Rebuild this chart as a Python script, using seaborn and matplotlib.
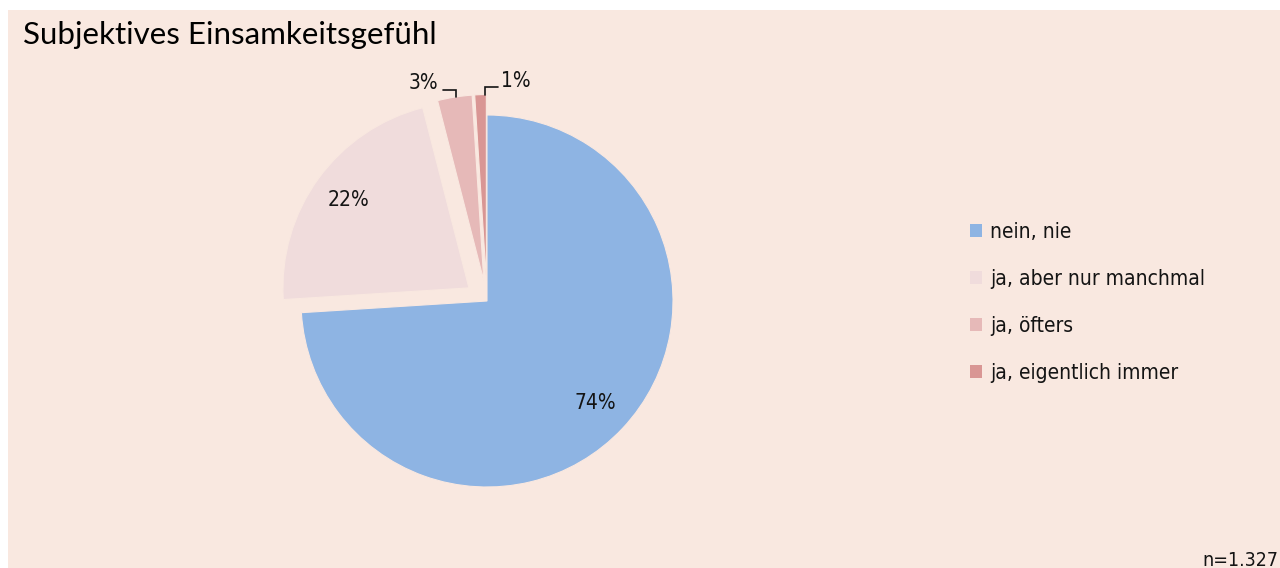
import numpy as np
import matplotlib
matplotlib.use('Agg')
import matplotlib.pyplot as plt
from matplotlib.patches import Rectangle, Patch
import seaborn as sns

# data
categories = ["nein, nie", "ja, aber nur manchmal", "ja, öfters", "ja, eigentlich immer"]
shares = [74, 22, 3, 1]
slice_colors = ["#8EB4E3", "#F0DCDC", "#E6B9B8", "#D99694"]
explode = [0, 0.12, 0.11, 0.11]
title = "Subjektives Einsamkeitsgefühl"
n_label = "n=1.327"

bg = "#F9E8E0"
ink = "#141414"

sns.set_theme(style="white")
plt.rcParams['font.family'] = ['DejaVu Sans']
plt.rcParams['font.stretch'] = 'condensed'

W, H = 1280, 568
fig = plt.figure(figsize=(W / 100, H / 100), dpi=100, facecolor="white")

# pink panel behind everything
fig.patches.append(Rectangle((8 / W, 0), 1 - 8 / W, 1 - 10 / H, transform=fig.transFigure,
                             facecolor=bg, edgecolor="none", zorder=-5))

# pie axes: centre (487, 301) px, radius 186 px
R, cx, cy = 186, 487, 301
lim = 1.3
S = 2 * lim * R
ax = fig.add_axes([(cx - S / 2) / W, (H - cy - S / 2) / H, S / W, S / H])
ax.set_facecolor("none")

wedges, texts, autotexts = ax.pie(
    shares, colors=slice_colors, explode=explode, startangle=90, counterclock=False,
    autopct=lambda p: f"{p:.0f}%" if p >= 5 else "", pctdistance=0.8,
    wedgeprops=dict(edgecolor=bg, linewidth=0.8),
    textprops=dict(fontsize=15, color=ink))
ax.set_xlim(-lim, lim)
ax.set_ylim(-lim, lim)
ax.axis("off")

# small slices get outside labels with a bent leader line (first one to the left, last to the right)
small = [i for i, v in enumerate(shares) if v < 5]
for k, i in enumerate(small):
    w, val, ex = wedges[i], shares[i], explode[i]
    a1, a2 = sorted([w.theta1 % 360, w.theta2 % 360])
    side = -1 if k < len(small) - 1 else 1
    ang = np.deg2rad(a1 + (0.45 if side < 0 else 0.1) * (a2 - a1))
    mid = np.deg2rad((a1 + a2) / 2)
    x0 = ex * np.cos(mid) + np.cos(ang)
    y0 = ex * np.sin(mid) + np.sin(ang)
    y1 = y0 + 0.038
    x1 = x0 + side * 0.07
    ax.plot([x0, x0, x1], [y0, y1, y1], color=ink, lw=1.2, solid_joinstyle="miter")
    ax.text(x1 + side * (0.03 if side < 0 else 0.015), y1 + 0.035, f"{val}%",
            ha="left" if side > 0 else "right", va="center", fontsize=15, color=ink)

fig.text(23 / W, 1 - 35 / H, title, fontsize=22.5, family=['Lato', 'DejaVu Sans'],
         fontstretch='normal', color="black", va="center", ha="left")

handles = [Patch(facecolor=c, edgecolor="none") for c in slice_colors]
fig.legend(handles, categories, loc="upper left", bbox_to_anchor=(970 / W, 1 - 222 / H),
           frameon=False, fontsize=15, handlelength=0.58, handleheight=0.58,
           handletextpad=0.4, labelspacing=1.3, borderpad=0, borderaxespad=0,
           labelcolor=ink)

fig.text(1 - 2 / W, 1 - 560 / H, n_label, fontsize=14, ha="right", va="center", color=ink)

fig.savefig("out.png", dpi=100, facecolor="white")
